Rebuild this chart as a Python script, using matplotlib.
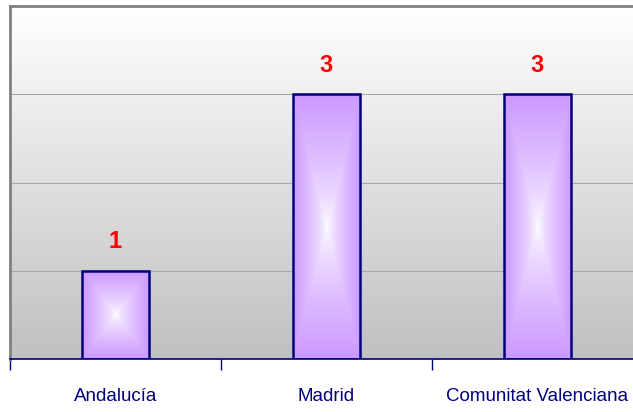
import numpy as np
import matplotlib
matplotlib.use('Agg')
import matplotlib.pyplot as plt
from matplotlib.colors import LinearSegmentedColormap

plt.rcParams['font.family'] = ['Liberation Sans', 'DejaVu Sans']

# data
regions = ['Andalucía', 'Madrid', 'Comunitat Valenciana']
counts = [1, 3, 3]

navy = '#000080'
purple = '#CC99FF'

fig = plt.figure(figsize=(6.33, 4.12), dpi=100)
ax = fig.add_axes([10 / 633, 53 / 412, 1.0, 353 / 412])
ax.set_xlim(-0.5, 2.5)
ax.set_ylim(0, 4)

# background: white at the top fading to grey at the bottom
bg = LinearSegmentedColormap.from_list('bg', ['#c0c0c0', '#ffffff'])
ax.imshow(np.linspace(0, 1, 256).reshape(-1, 1), cmap=bg, origin='lower',
          extent=[-0.5, 2.5, 0, 4], aspect='auto', zorder=0)

for y in [1, 2, 3]:
    ax.axhline(y, color='#a8a8a8', lw=0.8, zorder=1)

# bars with a rectangular centre-out gradient
barw = 0.32
bar_cmap = LinearSegmentedColormap.from_list('bar', ['#ffffff', purple])
u = np.linspace(-1, 1, 201)
U, V = np.meshgrid(u, u)
grad = np.maximum(np.abs(U), np.abs(V)) ** 0.7
for i, c in enumerate(counts):
    x0 = i - barw / 2
    ax.imshow(grad, cmap=bar_cmap, extent=[x0, x0 + barw, 0, c],
              aspect='auto', zorder=2, interpolation='bilinear')
    ax.add_patch(plt.Rectangle((x0, 0), barw, c, fill=False,
                               edgecolor=navy, lw=1.8, zorder=3))
    ax.text(i, c + 0.33, str(c), color='#ff0000', fontsize=17,
            fontweight='bold', ha='center', va='center', zorder=4)

ax.set_xlim(-0.5, 2.5)
ax.set_ylim(0, 4)
ax.set_yticks([])
ax.set_xticks([-0.5, 0.5, 1.5])
ax.set_xticklabels([])
ax.tick_params(axis='x', direction='out', length=8, color=navy, width=1)
ax.set_xticks([0, 1, 2], minor=True)
ax.set_xticklabels(regions, minor=True, color=navy, fontsize=13.5)
ax.tick_params(axis='x', which='minor', length=0, pad=21)

for s in ['top', 'left']:
    ax.spines[s].set_color('#808080')
    ax.spines[s].set_linewidth(2)
ax.spines['right'].set_visible(False)
ax.spines['bottom'].set_color(navy)
ax.spines['bottom'].set_linewidth(1.2)

fig.savefig('out.png', dpi=100)
